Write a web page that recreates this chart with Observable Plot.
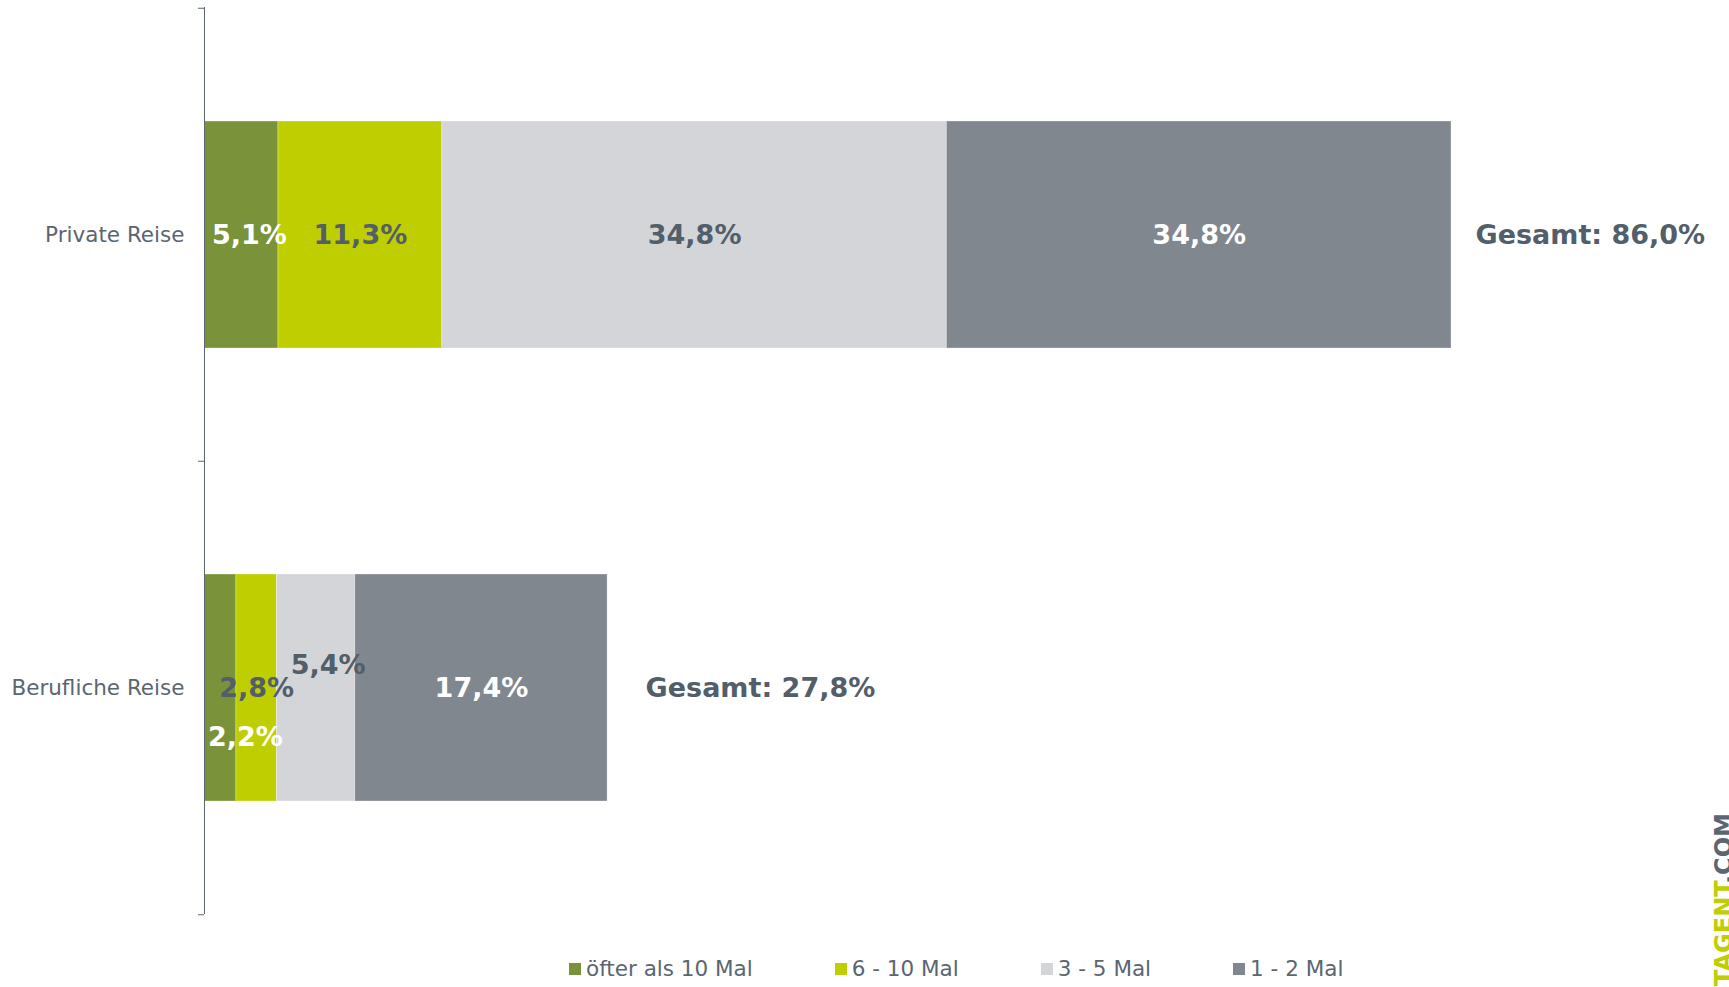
<!DOCTYPE html>
<html>
<head>
<meta charset="utf-8">
<script src="https://cdn.jsdelivr.net/npm/d3@7"></script>
<script src="https://cdn.jsdelivr.net/npm/@observablehq/plot@0.6"></script>
<style>
  html, body { margin: 0; padding: 0; background: #fff; overflow: hidden; }
  #wrap { position: relative; width: 1729px; height: 987px; }
  #legend { position: absolute; top: 957px; left: 569px; display: flex; gap: 82px;
            font: 21.5px "DejaVu Sans", Verdana, sans-serif; color: #5b6671; line-height: 24px; }
  #legend .item { display: flex; align-items: center; white-space: nowrap; }
  #legend .sw { width: 12px; height: 12px; margin-right: 5px; display: inline-block; }
  #mark { position: absolute; left: 1712px; top: 813px; transform: rotate(-90deg) translateX(-100%);
          transform-origin: 0 0; white-space: nowrap; font: bold 24px "DejaVu Sans", sans-serif; line-height: 24px; }
</style>
</head>
<body>
<div id="wrap">
  <div id="chart"></div>
  <div id="legend"></div>
  <div id="mark"><span style="color:#bfce00">MARKTAGENT</span><span style="color:#5b6671">.COM</span></div>
</div>
<script>
// ---- data ----
const categories = ["Private Reise", "Berufliche Reise"];
const series = ["öfter als 10 Mal", "6 - 10 Mal", "3 - 5 Mal", "1 - 2 Mal"];
const privateValues = [5.1, 11.3, 34.8, 34.8];
const beruflichValues = [2.2, 2.8, 5.4, 17.4];
const colors = ["#7a933b", "#bfce00", "#d4d5d9", "#80878f"];

// ---- table ----
const valuesByCategory = [privateValues, beruflichValues];
const data = categories.flatMap((c, ci) =>
  series.map((s, si) => ({category: c, series: s, value: valuesByCategory[ci][si]})));
const totals = categories.map((c, ci) => ({category: c, total: d3.sum(valuesByCategory[ci])}));

const fmt = v => d3.format(".1f")(v).replace(".", ",") + "%";

// ---- layout ----
const W = 1729, H = 940, mL = 204, mR = 75, mT = 7, mB = 26;
const xMax = 100;
const pxPerUnit = (W - mL - mR) / xMax;
const step = (H - mT - mB) / categories.length;
const dark = "#525e6a";
const axisColor = "#5b6671";
const F = "DejaVu Sans, Verdana, sans-serif";

const isWhite = d => d.series === series[0] || d.series === series[3];

function labels(pred, fill, dx = 0, dy = 0) {
  return Plot.text(data, Plot.stackX({
    x: "value", y: "category",
    text: d => pred(d) ? fmt(d.value) : null,
    fill, dx, dy, fontSize: 27, fontWeight: "bold", fontFamily: F
  }));
}
const special = (cat, s) => d => d.category === categories[cat] && d.series === series[s];

const chart = Plot.plot({
  width: W, height: H,
  marginLeft: mL, marginRight: mR, marginTop: mT, marginBottom: mB,
  style: {fontFamily: F, background: "white"},
  x: {domain: [0, xMax], axis: null},
  y: {domain: categories, axis: null, paddingInner: 0.5, paddingOuter: 0.25},
  color: {domain: series, range: colors},
  marks: [
    Plot.barX(data, Plot.stackX({x: "value", y: "category", fill: "series",
      stroke: "white", strokeOpacity: 0.3, strokeWidth: 1})),
    // axis line and boundary ticks
    Plot.ruleX([0], {stroke: axisColor, strokeWidth: 1}),
    Plot.ruleY(categories, {y: d => d, x1: 0, x2: -6 / pxPerUnit, dy: -step / 2, stroke: axisColor}),
    Plot.ruleY(categories.slice(-1), {y: d => d, x1: 0, x2: -6 / pxPerUnit, dy: step / 2, stroke: axisColor}),
    // category labels
    Plot.text(categories, {y: d => d, frameAnchor: "left", textAnchor: "end", dx: -20,
      fontSize: 21.5, fill: axisColor, fontFamily: F}),
    // value labels
    labels(d => isWhite(d) && !special(0, 0)(d) && !special(1, 0)(d), "white"),
    labels(special(0, 0), "white", 8, 0),
    labels(special(1, 0), "white", 25, 49),
    labels(d => !isWhite(d) && !special(1, 2)(d), dark),
    labels(special(1, 2), dark, 12, -23),
    // totals
    Plot.text(totals.slice(0, 1), {x: "total", y: "category", text: d => "Gesamt: " + fmt(d.total),
      textAnchor: "start", dx: 24, fontSize: 27, fontWeight: "bold", fill: dark, fontFamily: F}),
    Plot.text(totals.slice(1), {x: "total", y: "category", text: d => "Gesamt: " + fmt(d.total),
      textAnchor: "start", dx: 38, fontSize: 27, fontWeight: "bold", fill: dark, fontFamily: F})
  ]
});
document.getElementById("chart").appendChild(chart);

// legend
const legend = document.getElementById("legend");
series.forEach((s, i) => {
  const item = document.createElement("div");
  item.className = "item";
  const sw = document.createElement("span");
  sw.className = "sw";
  sw.style.background = colors[i];
  item.appendChild(sw);
  item.appendChild(document.createTextNode(s));
  legend.appendChild(item);
});
</script>
</body>
</html>
